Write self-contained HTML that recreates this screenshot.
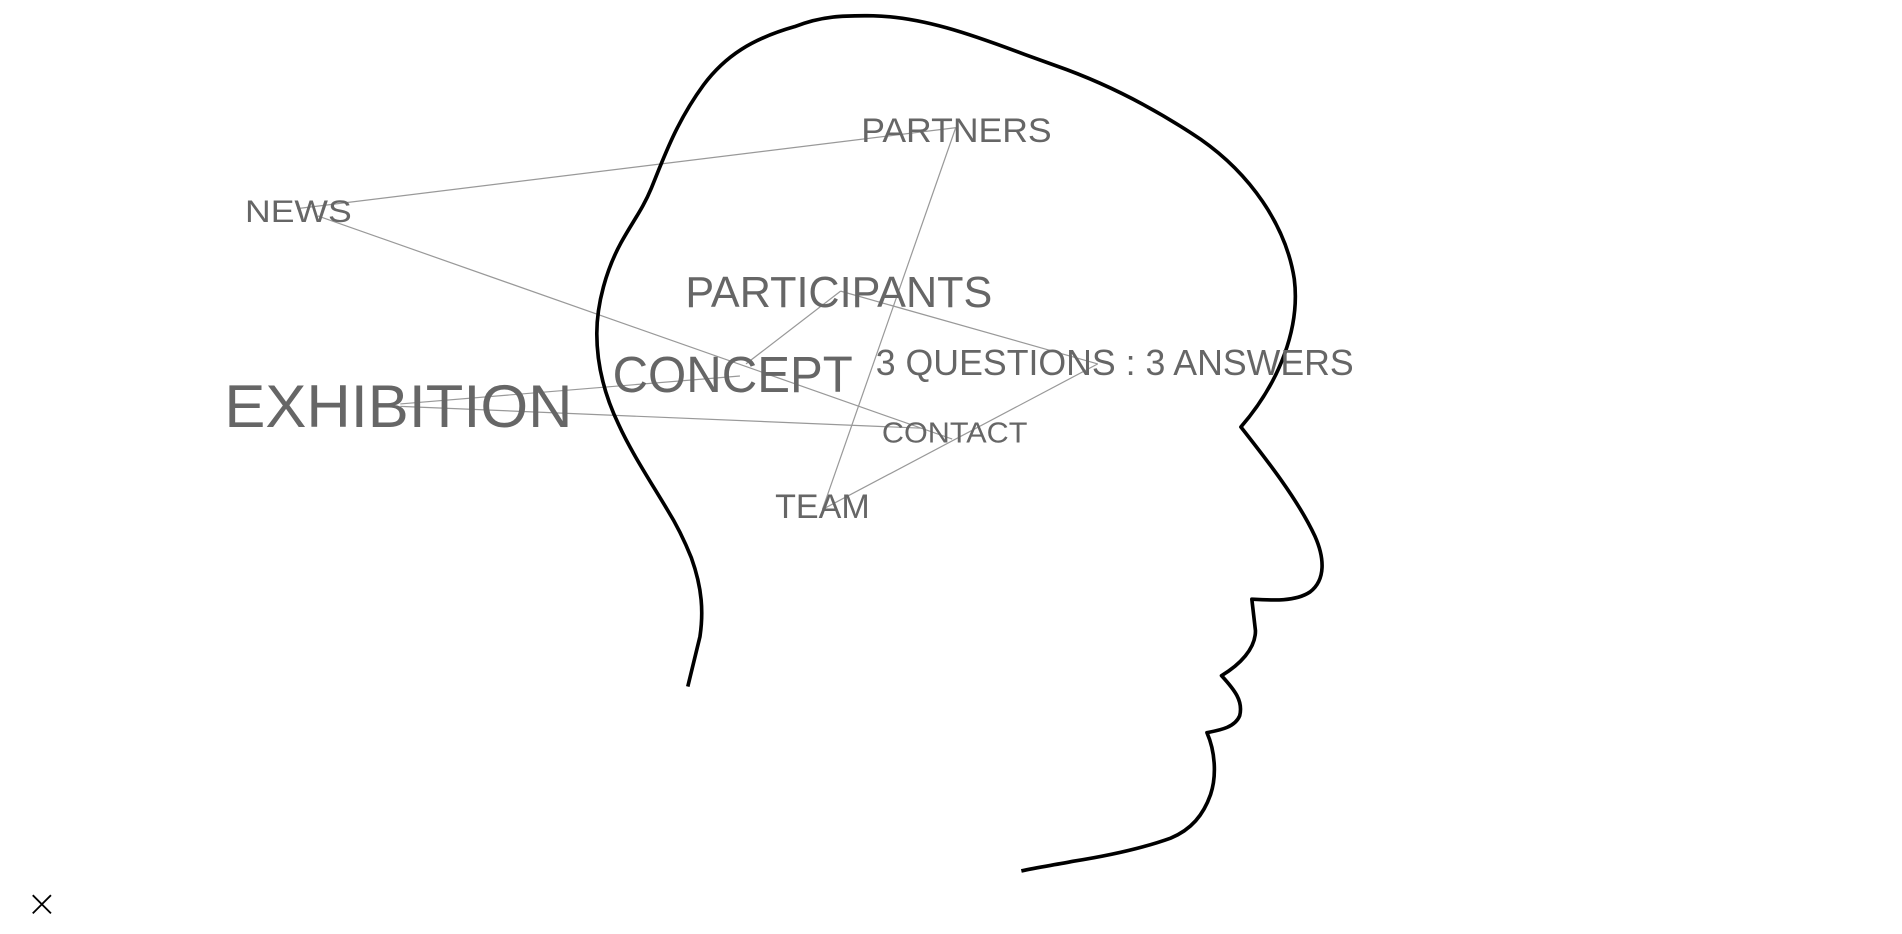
<!DOCTYPE html>
<html><head><style>html,body{margin:0;padding:0;background:#fff;overflow:hidden}svg{display:block}</style></head>
<body>
<svg width="1902" height="934" viewBox="0 0 1568 770" preserveAspectRatio="none" xmlns="http://www.w3.org/2000/svg">
<g stroke="#999" stroke-width="1" fill="none">
<line x1="245" y1="172" x2="790" y2="105"/>
<line x1="262" y1="178" x2="785" y2="362"/>
<line x1="788" y1="105" x2="678" y2="420"/>
<line x1="678" y1="420" x2="905" y2="300"/>
<line x1="905" y1="300" x2="693" y2="240"/>
<line x1="693" y1="240" x2="615" y2="300"/>
<line x1="330" y1="333" x2="610" y2="310"/>
<line x1="330" y1="335" x2="760" y2="353"/>
</g>
<path d="M567,566 L577,525 C580,505 579,485 570,460 C562,440 555,428 550,420 C535,395 520,372 510,350 C498,325 492,300 492,275 C492,250 500,222 512,200 C522,182 530,172 537,155 C548,128 558,100 580,70 C598,46 620,32 655,22 C680,12 700,13 720,13 C760,14 800,28 845,45 L870,54 C910,68 950,88 990,115 C1030,143 1060,185 1067,230 C1072,270 1055,315 1023,352 C1045,380 1070,412 1084,442 C1092,460 1093,478 1080,488 C1068,496 1050,495 1032,494 L1035,520 C1035,535 1022,548 1007,557 C1018,569 1025,578 1022,590 C1018,600 1005,602 995,604 C1002,620 1003,640 998,655 C992,672 982,684 965,691 C940,700 910,706 885,710 C870,713 855,715 842,718" stroke="#000" stroke-width="3" fill="none" stroke-linejoin="round"/>
<g fill="#666" font-family="'Liberation Sans',sans-serif" font-weight="normal">
<text x="202" y="183" font-size="26" textLength="88" lengthAdjust="spacingAndGlyphs">NEWS</text>
<text x="710" y="117" font-size="28" textLength="157" lengthAdjust="spacingAndGlyphs">PARTNERS</text>
<text x="565" y="253" font-size="36" textLength="253" lengthAdjust="spacingAndGlyphs">PARTICIPANTS</text>
<text x="505" y="323" font-size="42" textLength="198" lengthAdjust="spacingAndGlyphs">CONCEPT</text>
<text x="185" y="352" font-size="50" textLength="287" lengthAdjust="spacingAndGlyphs">EXHIBITION</text>
<text x="722" y="309" font-size="30" textLength="394" lengthAdjust="spacingAndGlyphs">3 QUESTIONS : 3 ANSWERS</text>
<text x="727" y="365" font-size="24" textLength="120" lengthAdjust="spacingAndGlyphs">CONTACT</text>
<text x="639" y="427" font-size="28" textLength="78" lengthAdjust="spacingAndGlyphs">TEAM</text>
</g>
<g stroke="#000" stroke-width="1.5"><line x1="27" y1="738" x2="42" y2="753"/><line x1="42" y1="738" x2="27" y2="753"/></g>
</svg>
</body></html>
